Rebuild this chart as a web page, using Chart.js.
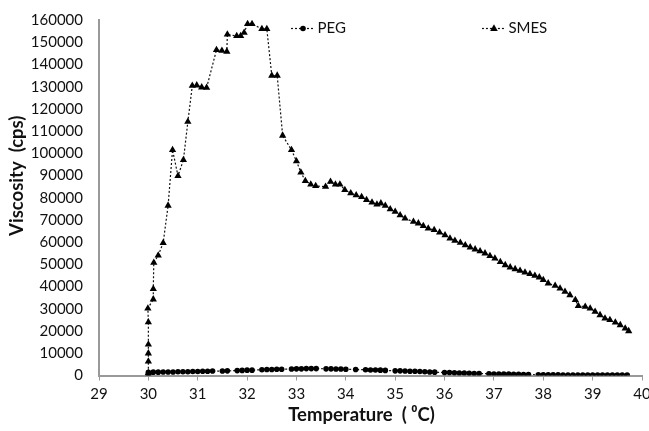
<!DOCTYPE html>
<html>
<head>
<meta charset="utf-8">
<script src="https://cdn.jsdelivr.net/npm/chart.js@4"></script>
<style>
  html, body { margin: 0; padding: 0; background: #fff; overflow: hidden; }
  canvas { display: block; }
</style>
</head>
<body>
<canvas id="viscChart" width="649" height="431"></canvas>
<script>
// tick labels
const xTicks = [29, 30, 31, 32, 33, 34, 35, 36, 37, 38, 39, 40];
const yTicks = [0, 10000, 20000, 30000, 40000, 50000, 60000, 70000, 80000,
    90000, 100000, 110000, 120000, 130000, 140000, 150000, 160000];

// PEG
const pegTemp = [
    30.0, 30.0, 30.1, 30.2, 30.3, 30.4, 30.5, 30.6, 30.7, 30.8,
    30.9, 31.0, 31.1, 31.2, 31.3, 31.5, 31.6, 31.8, 31.9, 32.0,
    32.1, 32.3, 32.4, 32.5, 32.6, 32.7, 32.9, 33.0, 33.1, 33.2,
    33.3, 33.4, 33.6, 33.7, 33.8, 33.9, 34.0, 34.2, 34.4, 34.5,
    34.6, 34.7, 34.8, 35.0, 35.1, 35.2, 35.3, 35.4, 35.5, 35.6,
    35.7, 35.8, 36.0, 36.1, 36.2, 36.3, 36.4, 36.5, 36.6, 36.7,
    36.9, 37.0, 37.1, 37.2, 37.3, 37.4, 37.5, 37.6, 37.7, 37.9,
    38.0, 38.1, 38.2, 38.3, 38.4, 38.5, 38.6, 38.7, 38.8, 38.9,
    39.0, 39.1, 39.2, 39.3, 39.4, 39.5, 39.6, 39.7
];
const pegVisc = [
    0, 1400, 1500, 1500, 1600, 1600, 1600, 1700, 1700, 1700,
    1800, 1800, 1900, 1900, 2000, 2000, 2100, 2200, 2300, 2400,
    2400, 2600, 2700, 2700, 2800, 2800, 2900, 3000, 3000, 3100,
    3100, 3100, 3000, 3000, 2900, 2900, 2800, 2700, 2600, 2500,
    2500, 2400, 2300, 2100, 2100, 2000, 1900, 1900, 1800, 1700,
    1600, 1500, 1300, 1300, 1200, 1100, 1100, 1000, 900, 900,
    800, 700, 700, 600, 600, 500, 500, 400, 400, 300,
    300, 300, 300, 300, 200, 200, 200, 200, 200, 200,
    200, 200, 200, 200, 200, 200, 200, 200
];

// SMES
const smesTemp = [
    30.00, 30.00, 30.00, 30.00, 30.00, 29.99, 30.10, 30.10, 30.11, 30.20,
    30.30, 30.40, 30.49, 30.60, 30.71, 30.80, 30.89, 30.98, 31.08, 31.18,
    31.38, 31.49, 31.59, 31.60, 31.79, 31.87, 31.94, 32.01, 32.10, 32.30,
    32.40, 32.50, 32.61, 32.72, 32.90, 33.00, 33.09, 33.18, 33.29, 33.39,
    33.59, 33.69, 33.79, 33.88, 33.98, 34.10, 34.21, 34.32, 34.42, 34.53,
    34.63, 34.71, 34.80, 34.90, 35.00, 35.10, 35.20, 35.37, 35.47, 35.57,
    35.67, 35.79, 35.90, 36.01, 36.11, 36.21, 36.32, 36.42, 36.52, 36.62,
    36.72, 36.82, 36.92, 37.02, 37.13, 37.23, 37.33, 37.43, 37.53, 37.63,
    37.73, 37.83, 37.92, 38.00, 38.10, 38.24, 38.34, 38.44, 38.54, 38.65,
    38.71, 38.85, 38.95, 39.05, 39.15, 39.25, 39.35, 39.46, 39.56, 39.66,
    39.73
];
const smesVisc = [
    1200, 6300, 10000, 14000, 24000, 30200, 34300, 39000, 50800, 54000,
    59700, 76500, 101500, 89800, 97000, 114200, 130400, 130600, 129700, 129500,
    146500, 146200, 145800, 153500, 152800, 152800, 154300, 158200, 158200, 156000,
    156000, 135000, 135000, 108000, 101500, 96500, 91400, 87600, 86000, 85300,
    85000, 87200, 86000, 86000, 83500, 82100, 81200, 80400, 79000, 77900,
    77000, 77500, 76400, 74900, 73700, 72200, 70700, 69200, 68500, 67300,
    66200, 65500, 64400, 63200, 61700, 60700, 59800, 58700, 57700, 56800,
    56000, 55000, 53800, 52700, 51100, 49700, 48700, 47900, 47200, 46400,
    45700, 44900, 44200, 43000, 41500, 40400, 39200, 37700, 36200, 34000,
    31300, 31000, 30200, 28700, 27200, 25700, 25000, 23900, 22700, 21200,
    20000
];

const FONT = 'Lato, "Liberation Sans", sans-serif';

// small legend icons: dotted line with the marker in the middle
function legendIcon(shape) {
    const c = document.createElement('canvas');
    c.width = 24;
    c.height = 12;
    const g = c.getContext('2d');
    g.strokeStyle = '#111';
    g.lineWidth = 1.2;
    g.setLineDash([2, 2]);
    g.beginPath();
    g.moveTo(0, 6.5);
    g.lineTo(24, 6.5);
    g.stroke();
    g.setLineDash([]);
    g.fillStyle = '#000';
    g.beginPath();
    if (shape === 'circle') {
        g.arc(12, 6.5, 2.8, 0, Math.PI * 2);
    } else {
        g.moveTo(12, 2.3);
        g.lineTo(15.8, 9);
        g.lineTo(8.2, 9);
        g.closePath();
    }
    g.fill();
    return c;
}
const legendIcons = [legendIcon('circle'), legendIcon('triangle')];

// shift an axis title off-centre, as Excel placed them
function shiftTitle(scale, dx, dy) {
    if (scale._titleShifted) return;
    const orig = scale.drawTitle.bind(scale);
    scale.drawTitle = function() {
        const r = this.right, b = this.bottom;
        this.right = r + 2 * dx;
        this.bottom = b + 2 * dy;
        orig();
        this.right = r;
        this.bottom = b;
    };
    scale._titleShifted = true;
}

// legend sits inside the plot area, like the original
const legendPlacement = {
    id: 'legendPlacement',
    afterLayout(chart) {
        const lg = chart.legend;
        lg.left = 155;
        lg.right = 1000;
        lg.top = -120.5;
        lg.bottom = 60;
        shiftTitle(chart.scales.x, -9, 0);
        shiftTitle(chart.scales.y, 0, -22);
    }
};

new Chart(document.getElementById('viscChart'), {
    type: 'scatter',
    data: {
        datasets: [{
            label: 'PEG',
            data: pegTemp.map((t, i) => ({x: t, y: pegVisc[i]})),
            showLine: true,
            borderColor: '#111',
            borderWidth: 1.2,
            borderDash: [2, 2],
            pointStyle: 'circle',
            pointRadius: 2.8,
            pointBackgroundColor: '#000',
            pointBorderWidth: 0,
        },
        {
            label: 'SMES',
            data: smesTemp.map((t, i) => ({x: t, y: smesVisc[i]})),
            showLine: true,
            borderColor: '#111',
            borderWidth: 1.2,
            borderDash: [2, 2],
            pointStyle: 'triangle',
            pointRadius: 4.2,
            pointBackgroundColor: '#000',
            pointBorderWidth: 0,
        }],
    },
    options: {
        responsive: false,
        animation: false,
        layout: {
            padding: {top: 19, left: 0, right: 0, bottom: 0},
        },
        plugins: {
            tooltip: {enabled: false},
            legend: {
                position: 'top',
                align: 'start',
                maxHeight: 1,
                labels: {
                    usePointStyle: true,
                    pointStyleWidth: 14,
                    padding: 141,
                    color: '#111',
                    font: {family: FONT, size: 15},
                    generateLabels(chart) {
                        const items = Chart.defaults.plugins.legend.labels.generateLabels(chart);
                        items.forEach((it, i) => { it.pointStyle = legendIcons[i]; });
                        return items;
                    },
                },
            },
        },
        scales: {
            x: {
                type: 'linear',
                min: 29,
                max: 40,
                afterBuildTicks: (scale) => { scale.ticks = xTicks.map(v => ({value: v})); },
                afterFit: (scale) => { scale.height = 55.5; scale.paddingRight = 7; },
                grid: {
                    display: true,
                    drawOnChartArea: false,
                    drawTicks: true,
                    tickLength: 5,
                    color: '#999',
                },
                border: {display: true, color: '#999', width: 2},
                ticks: {
                    color: '#111',
                    padding: 5,
                    font: {family: FONT, size: 15},
                },
                title: {
                    display: true,
                    text: 'Temperature  ( ⁰C)',
                    color: '#111',
                    font: {family: FONT, size: 18.5, weight: 'bold'},
                    padding: {top: 0, bottom: 5},
                },
            },
            y: {
                type: 'linear',
                min: 0,
                max: 160000,
                afterBuildTicks: (scale) => { scale.ticks = yTicks.map(v => ({value: v})); },
                afterFit: (scale) => { scale.width = 99; },
                grid: {display: false},
                border: {display: true, color: '#999', width: 2},
                ticks: {
                    color: '#111',
                    padding: 8,
                    font: {family: FONT, size: 15},
                    callback: (v) => String(v),
                },
                title: {
                    display: true,
                    text: 'Viscosity  (cps)',
                    color: '#111',
                    font: {family: FONT, size: 18.5, weight: 'bold'},
                    padding: {top: 6, bottom: 0},
                },
            },
        },
    },
    plugins: [legendPlacement],
});
</script>
</body>
</html>
